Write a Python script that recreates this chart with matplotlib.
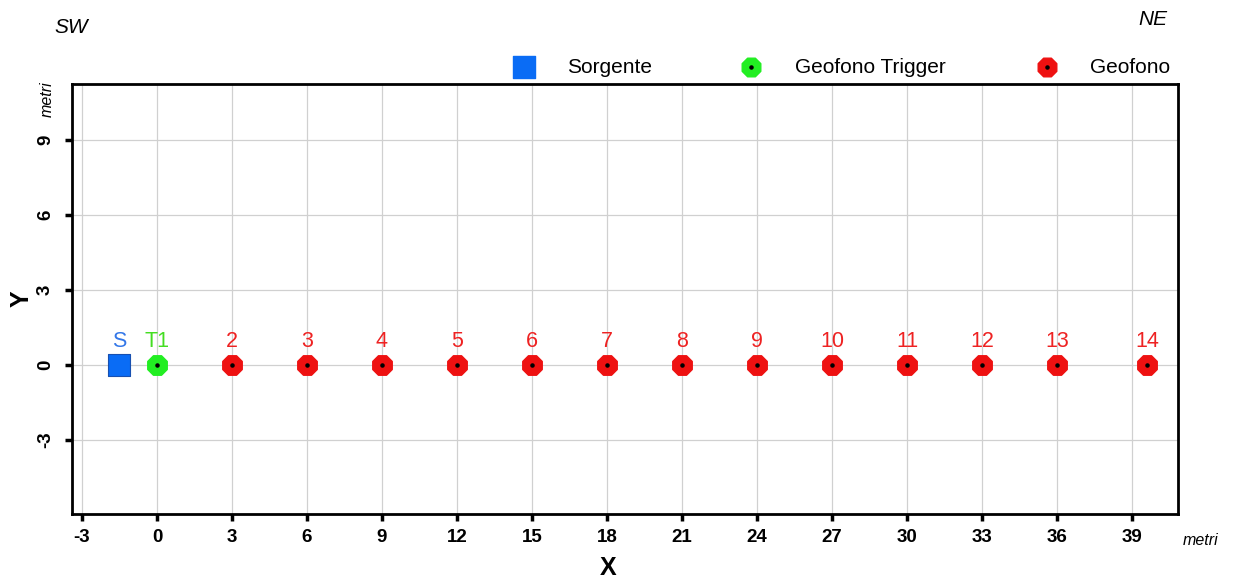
import numpy as np
import matplotlib.pyplot as plt

plt.rcParams['font.family'] = ['Liberation Sans', 'DejaVu Sans']

# posizioni (metri)
sorgente_x = [-1.5]
sorgente_y = [0]
trigger_x = [0]
trigger_y = [0]
geofoni_x = [3, 6, 9, 12, 15, 18, 21, 24, 27, 30, 33, 36, 39.6]
geofoni_y = [0] * len(geofoni_x)
geofoni_lab = ['2', '3', '4', '5', '6', '7', '8', '9', '10', '11', '12', '13', '14']

xticks = [-3, 0, 3, 6, 9, 12, 15, 18, 21, 24, 27, 30, 33, 36, 39]
yticks = [-3, 0, 3, 6, 9]

blue = '#0a6cf5'
green = '#22ee22'
red = '#ee1111'

fig = plt.figure(figsize=(12.34, 5.81), dpi=100)
ax = fig.add_axes([0.0583, 0.1153, 0.8963, 0.7401])

ax.set_xlim(-3.4, 40.84)
ax.set_ylim(-5.96, 11.24)
ax.set_xticks(xticks)
ax.set_xticklabels([str(t) for t in xticks], fontsize=13.5, fontweight='bold')
ax.set_yticks(yticks)
ax.set_yticklabels([str(t) for t in yticks], fontsize=13.5, fontweight='bold',
                   rotation=90, va='center')
ax.grid(True, color='#d0d0d0', linewidth=0.9)
ax.set_axisbelow(True)

for s in ax.spines.values():
    s.set_linewidth(2)
ax.tick_params(direction='out', length=5, width=2.5, pad=6)
ax.tick_params(axis='y', pad=8)

ax.scatter(sorgente_x, sorgente_y, marker='s', s=270, color=blue,
           edgecolors='#1850b0', linewidths=0.8, zorder=3)
ax.scatter(trigger_x, trigger_y, marker='8', s=230, color=green, zorder=3)
ax.scatter(trigger_x, trigger_y, marker='o', s=5, color='black', zorder=4)
ax.scatter(geofoni_x, geofoni_y, marker='8', s=230, color=red, zorder=3)
ax.scatter(geofoni_x, geofoni_y, marker='o', s=5, color='black', zorder=4)

ax.text(sorgente_x[0], 0.95, 'S', color='#3377e8', fontsize=15.5, ha='center', va='center')
ax.text(trigger_x[0], 0.95, 'T1', color='#44dd22', fontsize=15.5, ha='center', va='center')
for x, lab in zip(geofoni_x, geofoni_lab):
    ax.text(x, 0.95, lab, color='#ee2222', fontsize=15.5, ha='center', va='center')

ax.set_xlabel('X', fontsize=18, fontweight='bold')
ax.set_ylabel('Y', fontsize=18, fontweight='bold', labelpad=2)
ax.xaxis.set_label_coords(0.485, -0.098)

fig.text(0.0437, 0.953, 'SW', fontsize=15, style='italic', ha='left', va='center')
fig.text(0.9343, 0.966, 'NE', fontsize=15, style='italic', ha='center', va='center')
fig.text(0.038, 0.83, 'metri', fontsize=11.5, style='italic', rotation=90, ha='center', va='center')
fig.text(0.9725, 0.07, 'metri', fontsize=11.5, style='italic', ha='center', va='center')

# legenda sopra il grafico
ax_leg = fig.add_axes([0, 0, 1, 1], zorder=-1)
ax_leg.set_xlim(0, 1234)
ax_leg.set_ylim(581, 0)
ax_leg.axis('off')
ax_leg.scatter([524], [67], marker='s', s=260, color=blue)
ax_leg.scatter([751], [67], marker='8', s=210, color=green)
ax_leg.scatter([751], [67], marker='o', s=5, color='black')
ax_leg.scatter([1047], [67], marker='8', s=210, color=red)
ax_leg.scatter([1047], [67], marker='o', s=5, color='black')
fig.text(0.4595, 0.884, 'Sorgente', fontsize=15, ha='left', va='center')
fig.text(0.6443, 0.884, 'Geofono Trigger', fontsize=15, ha='left', va='center')
fig.text(0.8833, 0.884, 'Geofono', fontsize=15, ha='left', va='center')

fig.savefig('out.png', dpi=100)
